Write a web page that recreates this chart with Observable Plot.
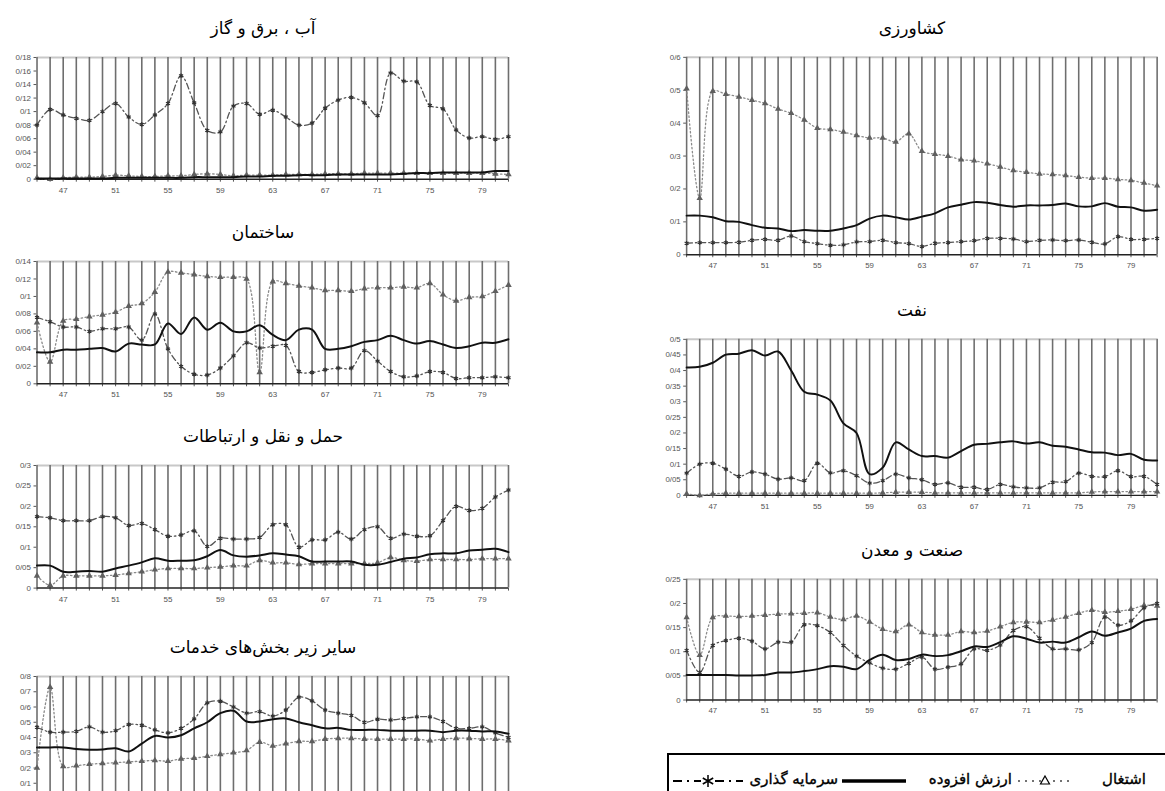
<!DOCTYPE html>
<html><head><meta charset="utf-8">
<script src="https://cdn.jsdelivr.net/npm/d3@7"></script>
<script src="https://cdn.jsdelivr.net/npm/@observablehq/plot@0.6"></script>
<style>
html,body{margin:0;padding:0;background:#fff;}
body{width:1165px;height:791px;overflow:hidden;position:relative;font-family:"DejaVu Sans",sans-serif;}
.panel{position:absolute;}
.title{position:absolute;transform:translate(-50%,-50%);font-size:17px;white-space:nowrap;direction:rtl;color:#000;line-height:1;}
#legend{position:absolute;left:667px;top:753px;width:560px;height:70px;border:2px solid #000;box-sizing:border-box;}
.lt{position:absolute;top:14px;font-size:15px;line-height:20px;white-space:nowrap;direction:rtl;color:#000;transform:translateX(-100%);-webkit-text-stroke:0.35px #000;}
.ls{position:absolute;top:15px;height:20px;}
</style></head><body>
<script>
// ---- data ----
const years = [45,46,47,48,49,50,51,52,53,54,55,56,57,58,59,60,61,62,63,64,65,66,67,68,69,70,71,72,73,74,75,76,77,78,79,80,81];
const xTickLabels = [47,51,55,59,63,67,71,75,79];

const seriesNames = ["اشتغال", "ارزش افزوده", "سرمایه گذاری"];

const panelTitles = {
  water: "آب ، برق و گاز",
  build: "ساختمان",
  trans: "حمل و نقل و ارتباطات",
  serv: "سایر زیر بخش‌های خدمات",
  agri: "کشاورزی",
  oil: "نفت",
  ind: "صنعت و معدن"
};

const waterTicks = [0,0.02,0.04,0.06,0.08,0.1,0.12,0.14,0.16,0.18];
const waterEmployment = [0.002,0,0.002,0.003,0.003,0.004,0.006,0.005,0.004,0.004,0.005,0.005,0.007,0.008,0.007,0.005,0.006,0.006,0.006,0.007,0.007,0.007,0.008,0.008,0.008,0.009,0.009,0.009,0.009,0.009,0.009,0.009,0.009,0.009,0.009,0.008,0.007];
const waterValueAdded = [0.001,0.001,0.001,0.001,0.001,0.001,0.002,0.002,0.002,0.002,0.002,0.002,0.003,0.003,0.003,0.003,0.004,0.004,0.005,0.005,0.006,0.006,0.006,0.007,0.007,0.007,0.007,0.007,0.008,0.009,0.009,0.01,0.01,0.01,0.01,0.012,0.012];
const waterInvestment = [0.08,0.103,0.095,0.09,0.087,0.1,0.112,0.092,0.081,0.095,0.112,0.153,0.113,0.072,0.07,0.108,0.112,0.096,0.102,0.092,0.08,0.083,0.105,0.117,0.121,0.113,0.094,0.157,0.145,0.144,0.109,0.104,0.073,0.061,0.063,0.059,0.063];

const buildTicks = [0,0.02,0.04,0.06,0.08,0.1,0.12,0.14];
const buildEmployment = [0.07,0.025,0.072,0.074,0.077,0.079,0.082,0.089,0.092,0.105,0.128,0.127,0.125,0.123,0.122,0.122,0.12,0.013,0.117,0.115,0.112,0.11,0.107,0.107,0.106,0.109,0.11,0.11,0.111,0.11,0.115,0.102,0.095,0.099,0.1,0.106,0.113];
const buildValueAdded = [0.036,0.036,0.039,0.039,0.04,0.041,0.037,0.046,0.045,0.045,0.069,0.057,0.076,0.062,0.07,0.06,0.06,0.067,0.056,0.05,0.062,0.062,0.04,0.04,0.043,0.048,0.05,0.055,0.05,0.046,0.049,0.045,0.041,0.043,0.047,0.047,0.051];
const buildInvestment = [0.076,0.071,0.065,0.065,0.06,0.063,0.063,0.065,0.05,0.08,0.04,0.02,0.011,0.01,0.018,0.032,0.047,0.041,0.043,0.044,0.014,0.013,0.016,0.018,0.018,0.038,0.026,0.014,0.008,0.009,0.014,0.013,0.006,0.007,0.007,0.008,0.007];

const transTicks = [0,0.05,0.1,0.15,0.2,0.25,0.3];
const transEmployment = [0.03,0.007,0.03,0.03,0.03,0.03,0.032,0.036,0.04,0.045,0.048,0.048,0.048,0.05,0.052,0.055,0.055,0.068,0.062,0.062,0.058,0.06,0.06,0.06,0.06,0.06,0.062,0.075,0.068,0.066,0.07,0.07,0.07,0.07,0.072,0.072,0.072];
const transValueAdded = [0.055,0.055,0.04,0.04,0.042,0.04,0.048,0.055,0.063,0.073,0.067,0.067,0.068,0.078,0.093,0.08,0.077,0.08,0.085,0.082,0.078,0.065,0.065,0.065,0.065,0.057,0.057,0.064,0.072,0.075,0.083,0.085,0.085,0.092,0.094,0.096,0.088];
const transInvestment = [0.175,0.172,0.165,0.165,0.165,0.175,0.172,0.153,0.158,0.143,0.127,0.13,0.14,0.102,0.122,0.12,0.12,0.124,0.155,0.155,0.1,0.118,0.118,0.137,0.12,0.143,0.15,0.122,0.132,0.127,0.128,0.165,0.2,0.19,0.195,0.223,0.24];

const servTicks = [0,0.1,0.2,0.3,0.4,0.5,0.6,0.7,0.8];
const servEmployment = [0.2,0.73,0.21,0.215,0.225,0.23,0.235,0.24,0.245,0.25,0.245,0.26,0.265,0.277,0.29,0.3,0.315,0.37,0.345,0.36,0.375,0.375,0.39,0.395,0.395,0.39,0.39,0.39,0.39,0.39,0.38,0.39,0.395,0.395,0.39,0.39,0.38];
const servValueAdded = [0.335,0.335,0.335,0.325,0.32,0.322,0.33,0.308,0.36,0.41,0.4,0.415,0.46,0.5,0.56,0.575,0.505,0.505,0.52,0.525,0.5,0.48,0.46,0.463,0.45,0.45,0.45,0.445,0.445,0.445,0.445,0.435,0.445,0.445,0.44,0.44,0.425];
const servInvestment = [0.467,0.435,0.435,0.44,0.47,0.435,0.445,0.485,0.48,0.45,0.43,0.46,0.522,0.627,0.638,0.6,0.56,0.57,0.54,0.58,0.665,0.64,0.58,0.56,0.545,0.5,0.52,0.515,0.525,0.535,0.535,0.505,0.46,0.46,0.47,0.43,0.4];

const agriTicks = [0,0.1,0.2,0.3,0.4,0.5,0.6];
const agriEmployment = [0.505,0.172,0.497,0.488,0.48,0.47,0.46,0.443,0.43,0.41,0.385,0.381,0.373,0.363,0.355,0.355,0.343,0.368,0.315,0.306,0.3,0.289,0.286,0.277,0.267,0.256,0.251,0.246,0.244,0.241,0.236,0.233,0.233,0.229,0.226,0.218,0.21];
const agriValueAdded = [0.119,0.119,0.114,0.102,0.1,0.09,0.082,0.08,0.072,0.075,0.073,0.073,0.08,0.09,0.11,0.119,0.114,0.107,0.116,0.126,0.144,0.152,0.16,0.158,0.151,0.146,0.15,0.15,0.151,0.156,0.147,0.147,0.157,0.146,0.144,0.134,0.137];
const agriInvestment = [0.035,0.037,0.037,0.037,0.038,0.044,0.047,0.044,0.057,0.04,0.034,0.029,0.03,0.039,0.04,0.044,0.037,0.034,0.025,0.035,0.037,0.04,0.043,0.05,0.05,0.048,0.04,0.044,0.045,0.043,0.045,0.038,0.033,0.055,0.047,0.047,0.05];

const oilTicks = [0,0.05,0.1,0.15,0.2,0.25,0.3,0.35,0.4,0.45,0.5];
const oilEmployment = [0.005,0,0.005,0.007,0.007,0.007,0.007,0.007,0.007,0.007,0.007,0.007,0.007,0.007,0.007,0.008,0.01,0.01,0.01,0.008,0.008,0.008,0.008,0.008,0.008,0.008,0.008,0.008,0.008,0.008,0.008,0.011,0.012,0.012,0.012,0.012,0.012];
const oilValueAdded = [0.41,0.412,0.425,0.451,0.454,0.465,0.448,0.461,0.4,0.332,0.323,0.304,0.231,0.2,0.068,0.089,0.17,0.147,0.126,0.126,0.121,0.142,0.162,0.165,0.17,0.173,0.166,0.17,0.159,0.156,0.147,0.138,0.137,0.129,0.133,0.114,0.112];
const oilInvestment = [0.071,0.1,0.103,0.084,0.061,0.075,0.068,0.052,0.056,0.047,0.103,0.072,0.079,0.063,0.039,0.047,0.068,0.056,0.05,0.035,0.04,0.026,0.026,0.019,0.035,0.027,0.024,0.024,0.042,0.044,0.071,0.061,0.06,0.079,0.06,0.061,0.035];

const indTicks = [0,0.05,0.1,0.15,0.2,0.25];
const indEmployment = [0.171,0.093,0.171,0.174,0.173,0.174,0.176,0.178,0.179,0.18,0.181,0.172,0.167,0.174,0.162,0.147,0.142,0.156,0.14,0.135,0.135,0.142,0.14,0.143,0.152,0.161,0.162,0.161,0.166,0.172,0.18,0.186,0.182,0.184,0.188,0.196,0.195];
const indValueAdded = [0.052,0.052,0.052,0.052,0.051,0.051,0.052,0.057,0.057,0.06,0.064,0.07,0.069,0.064,0.083,0.094,0.083,0.085,0.094,0.091,0.093,0.101,0.111,0.11,0.12,0.132,0.127,0.119,0.121,0.119,0.13,0.142,0.133,0.14,0.148,0.164,0.168];
const indInvestment = [0.103,0.057,0.113,0.123,0.128,0.122,0.106,0.12,0.12,0.156,0.154,0.14,0.113,0.091,0.077,0.066,0.064,0.076,0.089,0.064,0.068,0.075,0.106,0.103,0.114,0.144,0.152,0.128,0.106,0.106,0.104,0.119,0.172,0.155,0.164,0.191,0.2];

// ---- layout ----
const cols = {
  left:  {svgLeft: 0,   svgWidth: 520, x0: 36.5, x1: 508,   titleX: 263},
  right: {svgLeft: 640, svgWidth: 535, x0: 687,  x1: 1166.5, titleX: 912}
};
// "cut": the panel runs past the bottom edge of the picture, as in the reference
const panels = [
  {key: "water", col: "left",  top: 57.3,  bottom: 179,   ticks: waterTicks, emp: waterEmployment, va: waterValueAdded, inv: waterInvestment},
  {key: "build", col: "left",  top: 261,   bottom: 383.3, ticks: buildTicks, emp: buildEmployment, va: buildValueAdded, inv: buildInvestment},
  {key: "trans", col: "left",  top: 464.7, bottom: 587.3, ticks: transTicks, emp: transEmployment, va: transValueAdded, inv: transInvestment},
  {key: "serv",  col: "left",  top: 676,   bottom: 798,   ticks: servTicks,  emp: servEmployment,  va: servValueAdded,  inv: servInvestment, cut: true},
  {key: "agri",  col: "right", top: 57.3,  bottom: 258.5, ticks: agriTicks,  emp: agriEmployment,  va: agriValueAdded,  inv: agriInvestment},
  {key: "oil",   col: "right", top: 339.3, bottom: 498.3, ticks: oilTicks,   emp: oilEmployment,   va: oilValueAdded,   inv: oilInvestment},
  {key: "ind",   col: "right", top: 579.3, bottom: 702.3, ticks: indTicks,   emp: indEmployment,   va: indValueAdded,   inv: indInvestment}
];

const EMP_STROKE = "#8a8a8a", EMP_DASH = "1.5,2.5", EMP_MARK = "#5f5f5f";
const INV_STROKE = "#555", INV_DASH = "6,3,1.5,3", INV_MARK = "#333";
const VA_STROKE = "#111";

for (const p of panels) {
  const c = cols[p.col];
  const rows = years.map((year, i) => ({year, emp: p.emp[i], va: p.va[i], inv: p.inv[i]}));
  const marginTop = 8, marginBottom = p.cut ? 4 : 24;
  const yMax = p.ticks[p.ticks.length - 1];
  const chart = Plot.plot({
    width: c.svgWidth,
    height: (p.bottom - p.top) + marginTop + marginBottom,
    marginTop, marginBottom,
    marginLeft: c.x0 - c.svgLeft,
    marginRight: c.svgLeft + c.svgWidth - c.x1,
    style: {fontSize: "8px", fontFamily: "'Liberation Sans', Arial, sans-serif", color: "#555", background: "transparent", overflow: "visible"},
    x: {domain: [45, 81], ticks: years, tickSize: 3, tickPadding: 5, tickFormat: d => (!p.cut && xTickLabels.includes(d)) ? String(d) : "", label: null},
    y: {domain: [0, yMax], ticks: p.ticks, tickSize: 3, tickPadding: 3, tickFormat: d => (p.cut && d === 0) ? "" : String(d).replace(".", "/"), label: null},
    marks: [
      Plot.ruleY([yMax], {stroke: "#c8c8c8", strokeWidth: 2}),
      Plot.ruleX(years, {stroke: "#6e6e6e", strokeWidth: 1.6}),
      Plot.ruleY([0], {stroke: "#222", strokeWidth: 1.5}),
      Plot.line(rows, {x: "year", y: "emp", stroke: EMP_STROKE, strokeWidth: 1.3, strokeDasharray: EMP_DASH, curve: "catmull-rom"}),
      Plot.dot(rows, {x: "year", y: "emp", symbol: "triangle", r: 2.4, fill: EMP_MARK, stroke: "none"}),
      Plot.line(rows, {x: "year", y: "inv", stroke: INV_STROKE, strokeWidth: 1.3, strokeDasharray: INV_DASH, curve: "catmull-rom"}),
      Plot.dot(rows, {x: "year", y: "inv", symbol: "asterisk", r: 2.2, stroke: INV_MARK, strokeWidth: 1.2}),
      Plot.line(rows, {x: "year", y: "va", stroke: VA_STROKE, strokeWidth: 2, curve: "catmull-rom"})
    ]
  });
  const div = document.createElement("div");
  div.className = "panel";
  div.style.left = c.svgLeft + "px";
  div.style.top = (p.top - marginTop) + "px";
  div.appendChild(chart);
  document.body.appendChild(div);

  const t = document.createElement("div");
  t.className = "title";
  t.textContent = panelTitles[p.key];
  t.style.left = c.titleX + "px";
  t.style.top = (p.top - 29) + "px";
  document.body.appendChild(t);
}

// ---- legend ----
const legend = document.createElement("div");
legend.id = "legend";
document.body.appendChild(legend);
const L = 667; // legend left in page coords
function swatch(x, w, kind) {
  const ns = "http://www.w3.org/2000/svg";
  const s = document.createElementNS(ns, "svg");
  s.setAttribute("class", "ls");
  s.setAttribute("width", w); s.setAttribute("height", 20);
  s.style.left = (x - L - 2) + "px";
  const line = document.createElementNS(ns, "line");
  line.setAttribute("x1", 0); line.setAttribute("x2", w);
  line.setAttribute("y1", 11); line.setAttribute("y2", 11);
  if (kind === "va") { line.setAttribute("stroke", "#000"); line.setAttribute("stroke-width", 3.5); }
  if (kind === "emp") { line.setAttribute("stroke", "#444"); line.setAttribute("stroke-width", 1.6); line.setAttribute("stroke-dasharray", "2,5"); }
  if (kind === "inv") { line.setAttribute("stroke", "#000"); line.setAttribute("stroke-width", 1.8); line.setAttribute("stroke-dasharray", "9,5,2,5"); }
  s.appendChild(line);
  if (kind === "emp") {
    const tri = document.createElementNS(ns, "path");
    const cx = w / 2;
    tri.setAttribute("d", `M${cx},6 L${cx+4.5},14 L${cx-4.5},14 Z`);
    tri.setAttribute("fill", "#fff"); tri.setAttribute("stroke", "#000"); tri.setAttribute("stroke-width", 1.2);
    s.appendChild(tri);
  }
  if (kind === "inv") {
    const cx = w / 2;
    const bg = document.createElementNS(ns, "rect");
    bg.setAttribute("x", cx - 7); bg.setAttribute("y", 2); bg.setAttribute("width", 14); bg.setAttribute("height", 18); bg.setAttribute("fill", "#fff");
    s.appendChild(bg);
    const g = document.createElementNS(ns, "path");
    g.setAttribute("d", `M${cx},5 L${cx},17 M${cx-5.2},8 L${cx+5.2},14 M${cx-5.2},14 L${cx+5.2},8`);
    g.setAttribute("stroke", "#000"); g.setAttribute("stroke-width", 1.5);
    s.appendChild(g);
  }
  legend.appendChild(s);
}
function ltext(rightX, txt) {
  const d = document.createElement("div");
  d.className = "lt";
  d.textContent = txt;
  d.style.left = (rightX - L - 2) + "px";
  legend.appendChild(d);
}
swatch(673, 70, "inv");
ltext(838, seriesNames[2]);
swatch(842, 64, "va");
ltext(1012, seriesNames[1]);
swatch(1018, 54, "emp");
ltext(1146, seriesNames[0]);
</script>
</body></html>
